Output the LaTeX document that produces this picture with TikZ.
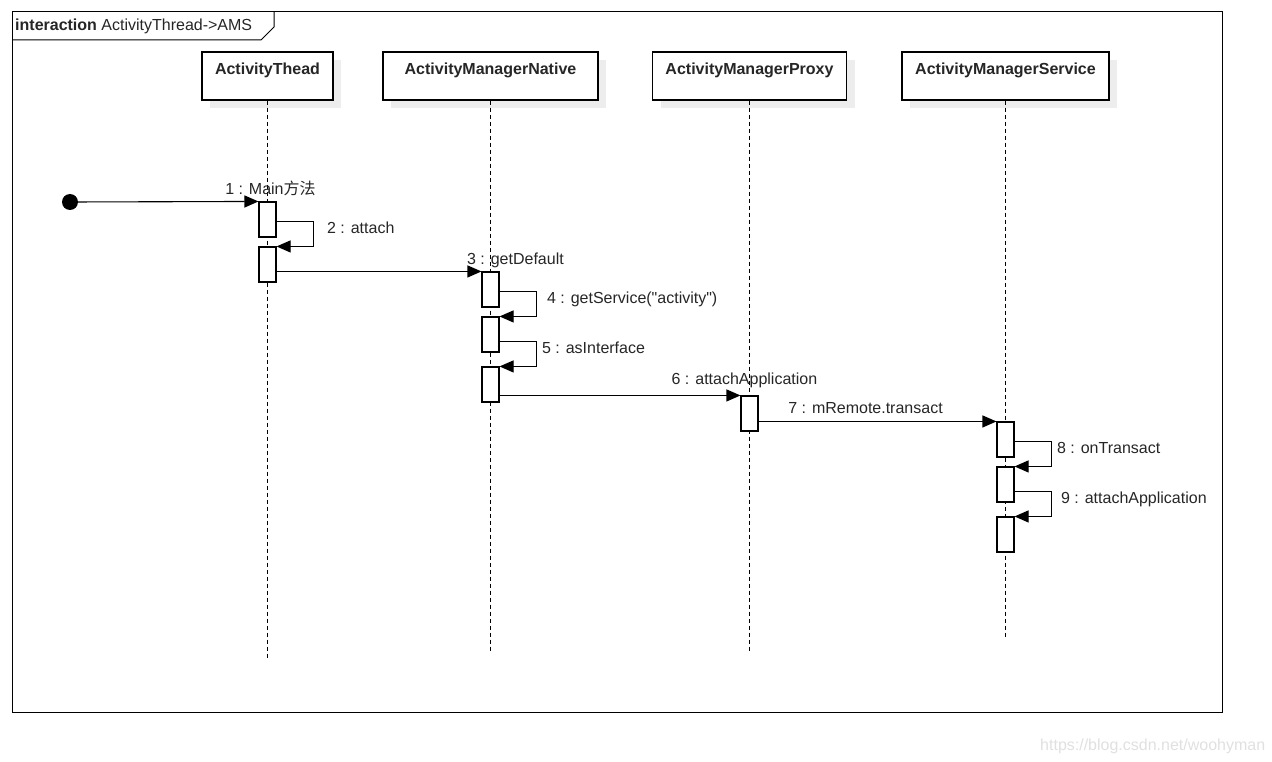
\documentclass[tikz,border=0pt]{standalone}
\usepackage{fontspec}
\setmainfont{Liberation Sans}
\newfontfamily\plainq{Liberation Sans}[Ligatures=ResetAll]
\newfontfamily\cjk{Noto Sans CJK SC}
\usetikzlibrary{positioning,arrows.meta,shadows}

\begin{document}
\begin{tikzpicture}[
    x=1pt, y=-1pt,
    font=\fontsize{16}{19}\selectfont,
    every node/.style={text=black!85},
    head/.style={draw,fill=white,line width=1.1pt,inner sep=0pt,
        text height=23pt,text depth=25pt,font=\fontsize{16}{19}\selectfont\bfseries,
        general shadow={shadow xshift=8pt,shadow yshift=-8pt,fill=black!7}},
    life/.style={dash pattern=on 4pt off 3pt,line width=1pt},
    act/.style={draw,fill=white,line width=1.1pt,minimum width=17pt,minimum height=35pt,inner sep=0pt},
    msg/.style={line width=1.1pt,-{Triangle[length=14pt,width=12pt]}},
    lbl/.style={inner sep=0pt},
    start/.style={circle,fill,inner sep=0pt,minimum size=16pt}
]
\useasboundingbox (0,0) rectangle (1272,762);

% Frame
\draw[line width=1pt] (12,12) rectangle (1222,712);
\draw[line width=1pt] (12,40) -- (261,40) -- (274,27) -- (274,12);
\node[lbl, anchor=base west] (title) at (15,31) {\textbf{interaction} ActivityThread->AMS};

% Lifelines
\node[head, minimum width=131pt, anchor=base] (at) at (267.5,75) {ActivityThead};
\node[head, minimum width=215pt, anchor=base] (amn) at (490.5,75) {ActivityManagerNative};
\node[head, minimum width=194pt, anchor=base] (amp) at (749.5,75) {ActivityManagerProxy};
\node[head, minimum width=207pt, anchor=base] (ams) at (1005.5,75) {ActivityManagerService};

\coordinate (atEnd) at (267.5,660);
\coordinate (amnEnd) at (490.5,652);
\coordinate (ampEnd) at (749.5,652);
\coordinate (amsEnd) at (1005.5,638);

\draw[life] (at.south) -- (atEnd);
\draw[life] (amn.south) -- (amnEnd);
\draw[life] (amp.south) -- (ampEnd);
\draw[life] (ams.south) -- (amsEnd);

% Activations
\node[start] (init) at (70,202) {};
\node[act] (a1) at (267.5,219.5) {};
\node[act] (a2) at (267.5,264.5) {};
\node[act] (a3) at (490.5,289.5) {};
\node[act] (a4) at (490.5,334.5) {};
\node[act] (a5) at (490.5,384.5) {};
\node[act] (a6) at (749.5,413.5) {};
\node[act] (a7) at (1005.5,439.5) {};
\node[act] (a8) at (1005.5,484.5) {};
\node[act] (a9) at (1005.5,534.5) {};

% Messages
\draw[msg] (init) -- (a1.north west)
    node[lbl, anchor=base, xshift=12pt, yshift=7pt] (m1) {1 : Main{\cjk 方法}};
\draw[msg] ([yshift=-20pt]a1.north east) -- ++(37,0)
    node[lbl, anchor=base west, xshift=13pt, yshift=-12.5pt] (m2) {2 : attach} |- (a2.north east);
\draw[msg] (a2.east |- a3.north) -- (a3.north west)
    node[lbl, anchor=base, xshift=34pt, yshift=7pt] (m3) {3 : getDefault};
\draw[msg] ([yshift=-20pt]a3.north east) -- ++(37,0)
    node[lbl, anchor=base west, xshift=10pt, yshift=-12.5pt] (m4) {\plainq 4 : getService("activity")} |- (a4.north east);
\draw[msg] ([yshift=-25pt]a4.north east) -- ++(37,0)
    node[lbl, anchor=base west, xshift=5pt, yshift=-12.5pt] (m5) {5 : asInterface} |- (a5.north east);
\draw[msg] (a5.east |- a6.north) -- (a6.north west)
    node[lbl, anchor=base, xshift=4pt, yshift=11pt] (m6) {6 : attachApplication};
\draw[msg] (a6.east |- a7.north) -- node[lbl, anchor=base, xshift=-12pt, yshift=8pt] (m7) {7 : mRemote.transact} (a7.north west);
\draw[msg] ([yshift=-20pt]a7.north east) -- ++(37,0)
    node[lbl, anchor=base west, xshift=5pt, yshift=-12.5pt] (m8) {8 : onTransact} |- (a8.north east);
\draw[msg] ([yshift=-25pt]a8.north east) -- ++(37,0)
    node[lbl, anchor=base west, xshift=9pt, yshift=-12.5pt] (m9) {9 : attachApplication} |- (a9.north east);

% Watermark
\node[lbl, anchor=base west, text=black!12] (mark) at (1040,750) {https://blog.csdn.net/woohyman};

\end{tikzpicture}
\end{document}
